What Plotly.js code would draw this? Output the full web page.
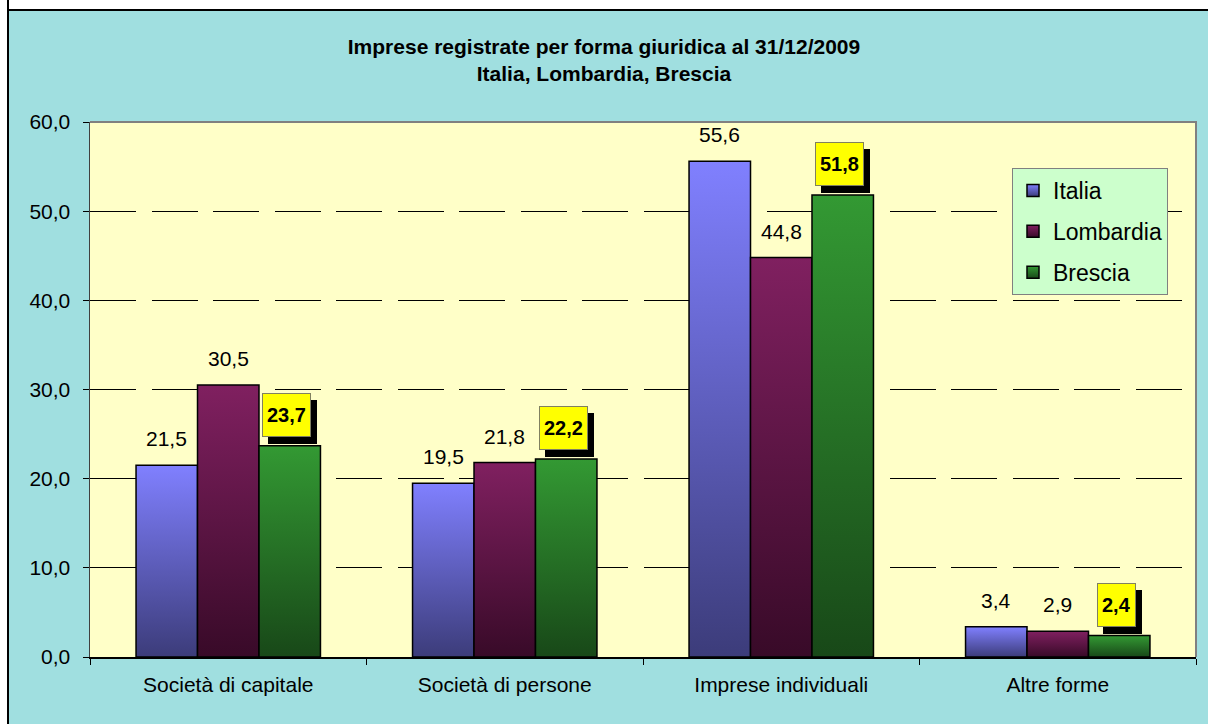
<!DOCTYPE html>
<html>
<head>
<meta charset="utf-8">
<script src="https://cdn.plot.ly/plotly-3.0.1.min.js"></script>
<style>
  html, body { margin: 0; padding: 0; background: #ffffff; }
  #chart { position: absolute; left: 0; top: 0; width: 1208px; height: 724px; }
  .edge { position: absolute; pointer-events: none; z-index: 5; box-sizing: border-box; }
  #topw { left: 0; top: 0; width: 1208px; height: 11px; background: #ffffff; border-bottom: 2px solid #000; }
  #leftw { left: 0; top: 0; width: 9px; height: 724px; background: #ffffff; border-right: 2px solid #000; }
</style>
</head>
<body>
<div id="chart"></div>
<div id="topw" class="edge"></div>
<div id="leftw" class="edge"></div>
<script>
const categories = ["Società di capitale", "Società di persone", "Imprese individuali", "Altre forme"];
const seriesNames = ["Italia", "Lombardia", "Brescia"];
const italia = [21.5, 19.5, 55.6, 3.4];
const lombardia = [30.5, 21.8, 44.8, 2.9];
const brescia = [23.7, 22.2, 51.8, 2.4];
const yTicks = [0, 10, 20, 30, 40, 50, 60];

const W = 1208, H = 724;
const margin = {l: 90, r: 12, t: 122, b: 67};
const bargap = 0.333;
const plotW = W - margin.l - margin.r;
const barPx = plotW / categories.length * (1 - bargap) / seriesNames.length;

const FONT = 'Liberation Sans, Arial, sans-serif';
const fmt = v => v.toFixed(1).replace('.', ',');
const topColors = ["#8080ff", "#802060", "#339933"];
const botColors = ["#3c3c7a", "#380a28", "#184818"];
const values = [italia, lombardia, brescia];

const traces = values.map((vals, i) => ({
  type: 'bar',
  name: seriesNames[i],
  x: categories,
  y: vals,
  legendgroup: 'g' + i,
  marker: {color: topColors[i], line: {color: '#000000', width: 1.5}},
  hoverinfo: 'none'
}));

const labelFont = {family: FONT, size: 21, color: '#000'};
const annotations = [];
[italia, lombardia].forEach((vals, s) => {
  vals.forEach((v, k) => {
    annotations.push({
      x: categories[k], y: v, xref: 'x', yref: 'y',
      text: fmt(v), showarrow: false, yanchor: 'bottom',
      xshift: (s - 1) * barPx, yshift: 13, font: labelFont
    });
  });
});
const boxFont = {family: FONT, size: 20, color: '#000'};
brescia.forEach((v, k) => {
  annotations.push({
    x: categories[k], y: v, xref: 'x', yref: 'y',
    text: '<b>' + fmt(v) + '</b>', showarrow: false, yanchor: 'bottom',
    xshift: barPx - 3 + 6, yshift: 9 - 7, height: 34, borderpad: 4, borderwidth: 1,
    bgcolor: '#000000', bordercolor: '#000000', font: boxFont
  });
});
brescia.forEach((v, k) => {
  annotations.push({
    x: categories[k], y: v, xref: 'x', yref: 'y',
    text: '<b>' + fmt(v) + '</b>', showarrow: false, yanchor: 'bottom',
    xshift: barPx - 3, yshift: 9, height: 34, borderpad: 4, borderwidth: 1,
    bgcolor: '#ffff00', bordercolor: '#808060', font: boxFont
  });
});

const layout = {
  width: W, height: H,
  margin: margin,
  paper_bgcolor: '#a0dfe0',
  plot_bgcolor: '#ffffc8',
  separators: ',.',
  barmode: 'group',
  bargap: bargap,
  bargroupgap: 0,
  font: {family: FONT, color: '#000'},
  title: {
    text: '<b>Imprese registrate per forma giuridica al 31/12/2009</b><br><b>Italia, Lombardia, Brescia</b>',
    font: {family: FONT, size: 21, color: '#000'},
    x: 0.5, xref: 'container', xanchor: 'center', y: 0.926, yanchor: 'middle'
  },
  xaxis: {
    type: 'category',
    showline: true, linecolor: '#000', linewidth: 1.5,
    ticks: 'outside', tickson: 'boundaries', ticklen: 6, tickcolor: '#000',
    ticklabelstandoff: 8,
    tickfont: {family: FONT, size: 21, color: '#000'},
    showgrid: false, fixedrange: true
  },
  yaxis: {
    range: [0, 60],
    tickvals: yTicks,
    tickformat: '.1f',
    showline: true, linecolor: '#404040', linewidth: 1.5,
    ticks: 'outside', ticklen: 6, tickcolor: '#000',
    ticklabelstandoff: 8,
    tickfont: {family: FONT, size: 21, color: '#000'},
    showgrid: true, gridcolor: '#000', gridwidth: 1, griddash: '46px,15.5px',
    zeroline: false, fixedrange: true
  },
  legend: {
    x: (1012 - margin.l) / plotW, xanchor: 'left',
    y: (H - margin.b - 168) / (H - margin.t - margin.b), yanchor: 'top',
    bgcolor: '#ccffcc', bordercolor: '#808080', borderwidth: 1,
    font: {family: FONT, size: 23, color: '#000'},
    traceorder: 'grouped', tracegroupgap: 8, itemwidth: 30
  },
  shapes: [{
    type: 'path', xref: 'paper', yref: 'paper',
    path: 'M 0 1 L 1 1 L 1 0',
    line: {color: '#808080', width: 2}, layer: 'above'
  }],
  annotations: annotations,
  showlegend: true
};

Plotly.newPlot('chart', traces, layout, {displayModeBar: false, staticPlot: true}).then(gd => {
  const svg = gd.querySelector('svg.main-svg');
  const ns = 'http://www.w3.org/2000/svg';
  let defs = svg.querySelector('defs');
  if (!defs) { defs = document.createElementNS(ns, 'defs'); svg.insertBefore(defs, svg.firstChild); }
  topColors.forEach((c, i) => {
    const g = document.createElementNS(ns, 'linearGradient');
    g.setAttribute('id', 'grad' + i);
    g.setAttribute('x1', '0'); g.setAttribute('y1', '0');
    g.setAttribute('x2', '0'); g.setAttribute('y2', '1');
    const s1 = document.createElementNS(ns, 'stop');
    s1.setAttribute('offset', '0'); s1.setAttribute('stop-color', c);
    const s2 = document.createElementNS(ns, 'stop');
    s2.setAttribute('offset', '1'); s2.setAttribute('stop-color', botColors[i]);
    g.appendChild(s1); g.appendChild(s2); defs.appendChild(g);
  });
  gd.querySelectorAll('.barlayer .trace').forEach((tr, i) => {
    tr.querySelectorAll('path').forEach(p => { p.style.fill = 'url(#grad' + i + ')'; });
  });
  gd.querySelectorAll('.legend .traces').forEach((tr, i) => {
    tr.querySelectorAll('.legendpoints path').forEach(p => { p.style.fill = 'url(#grad' + i + ')'; });
  });
});
</script>
</body>
</html>
